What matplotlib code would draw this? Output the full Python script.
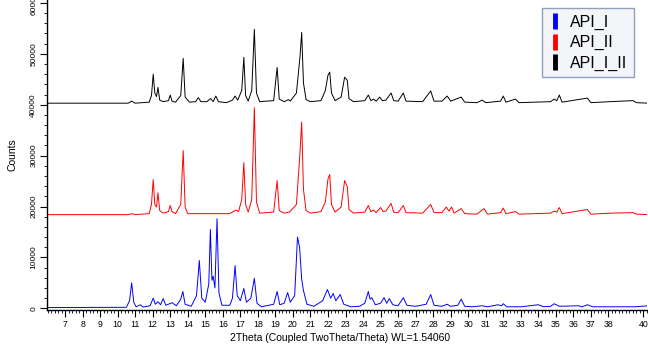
import matplotlib
matplotlib.use("Agg")
import matplotlib.pyplot as plt
from matplotlib.lines import Line2D
from matplotlib.ticker import MultipleLocator, FixedLocator, FixedFormatter

plt.rcParams['font.family'] = ['Liberation Sans', 'DejaVu Sans']

# ---- data: (2theta, counts above the pattern's own baseline) ----
api_I_points = [
    (6.0, 150), (10.5, 200), (10.68, 1500), (10.8, 5000), (10.92, 1200), (11.05, 300),
    (11.3, 700), (11.45, 250), (11.85, 500), (12.03, 2000), (12.15, 800), (12.3, 1300),
    (12.45, 700), (12.6, 1900), (12.75, 600), (13.1, 1100), (13.35, 500), (13.6, 1800),
    (13.72, 3300), (13.85, 800), (14.2, 400), (14.5, 2500), (14.66, 9400), (14.8, 2000),
    (15.0, 1200), (15.2, 4800), (15.29, 15500), (15.38, 5500), (15.45, 6300), (15.55, 4000),
    (15.67, 17600), (15.78, 3000), (15.95, 600), (16.4, 600), (16.55, 2000), (16.7, 8400),
    (16.82, 2500), (17.0, 1500), (17.2, 3900), (17.35, 1200), (17.6, 2000), (17.8, 5900),
    (17.95, 1000), (18.2, 300), (18.9, 800), (19.1, 3300), (19.25, 700), (19.5, 1000),
    (19.7, 3100), (19.85, 1200), (20.1, 2500), (20.26, 14000), (20.38, 12000), (20.5, 5700),
    (20.6, 3500), (20.8, 800), (21.2, 400), (21.7, 1500), (21.97, 3700), (22.15, 2000),
    (22.3, 2900), (22.45, 1500), (22.7, 2700), (22.9, 800), (23.3, 300), (23.8, 400),
    (24.1, 1000), (24.3, 3300), (24.4, 1800), (24.5, 2100), (24.7, 700), (25.0, 1000),
    (25.2, 2100), (25.35, 1000), (25.5, 1900), (25.7, 700), (26.0, 500), (26.3, 2100),
    (26.5, 600), (27.0, 400), (27.6, 800), (27.86, 2700), (28.05, 600), (28.5, 400),
    (28.8, 800), (29.0, 400), (29.4, 600), (29.6, 1800), (29.8, 400), (30.2, 300),
    (30.8, 500), (31.1, 300), (31.7, 700), (31.9, 500), (32.0, 900), (32.2, 300),
    (33.0, 300), (34.0, 700), (34.3, 300), (34.7, 400), (34.9, 900), (35.2, 400),
    (36.3, 500), (36.5, 300), (36.8, 700), (37.1, 300), (38.5, 300), (39.5, 300),
    (40.3, 500),
]
api_I_offset = 0

api_II_points = [
    (6.0, 0), (10.6, 0), (10.8, 200), (11.0, 0), (11.8, 200), (11.93, 2000), (12.03, 6900),
    (12.12, 2000), (12.22, 1500), (12.3, 4300), (12.4, 800), (12.6, 300), (12.9, 600),
    (13.0, 1800), (13.1, 600), (13.3, 200), (13.6, 2000), (13.74, 12600), (13.85, 1500),
    (14.0, 200), (16.4, 200), (16.6, 600), (16.75, 900), (16.9, 600), (17.08, 3000),
    (17.2, 10200), (17.3, 2000), (17.45, 500), (17.65, 3000), (17.8, 21000), (17.92, 2500),
    (18.1, 300), (18.9, 500), (19.1, 6700), (19.22, 800), (19.5, 300), (19.8, 500),
    (20.2, 2000), (20.4, 12000), (20.5, 18200), (20.6, 5000), (20.75, 800), (21.0, 300),
    (21.6, 600), (21.85, 2500), (22.0, 7000), (22.1, 7900), (22.2, 2000), (22.4, 500),
    (22.75, 1500), (22.95, 6700), (23.1, 5500), (23.2, 1000), (23.45, 300), (24.1, 500),
    (24.3, 1800), (24.45, 600), (24.6, 900), (24.75, 400), (25.0, 1400), (25.15, 600),
    (25.3, 700), (25.6, 2200), (25.75, 500), (26.0, 400), (26.3, 1800), (26.45, 400),
    (27.4, 300), (27.86, 2000), (28.05, 400), (28.5, 400), (28.75, 1500), (28.9, 700),
    (29.05, 1500), (29.2, 300), (29.6, 1200), (29.8, 200), (30.5, 100), (30.9, 1200),
    (31.1, 100), (31.85, 400), (32.0, 1300), (32.15, 200), (32.7, 600), (32.9, 100),
    (34.7, 300), (34.9, 700), (35.05, 500), (35.2, 1400), (35.35, 200), (36.8, 1000),
    (37.0, 100), (38.2, 300), (39.4, 400), (39.6, 100), (40.3, 0),
]
api_II_offset = 18400

api_I_II_points = [
    (6.0, 0), (10.6, 0), (10.8, 400), (11.0, 0), (11.8, 200), (11.93, 1500), (12.03, 5700),
    (12.12, 2000), (12.22, 1300), (12.3, 3100), (12.4, 600), (12.6, 300), (12.9, 500),
    (13.0, 1600), (13.1, 400), (13.3, 200), (13.6, 1500), (13.74, 8800), (13.85, 1200),
    (14.1, 200), (14.45, 300), (14.6, 1100), (14.75, 300), (15.1, 300), (15.3, 900),
    (15.45, 300), (15.6, 1400), (15.75, 300), (16.2, 100), (16.55, 600), (16.7, 1400),
    (16.85, 600), (17.08, 2500), (17.2, 9000), (17.3, 1500), (17.45, 400), (17.65, 2500),
    (17.8, 14500), (17.92, 2000), (18.1, 300), (18.9, 500), (19.1, 7000), (19.22, 800),
    (19.5, 300), (19.75, 700), (19.85, 400), (20.2, 2000), (20.4, 9000), (20.5, 13900),
    (20.6, 4000), (20.75, 700), (21.0, 300), (21.6, 500), (21.85, 2500), (22.0, 5500),
    (22.1, 6100), (22.2, 2000), (22.4, 500), (22.75, 1200), (22.95, 5100), (23.1, 4500),
    (23.2, 900), (23.45, 300), (24.1, 500), (24.3, 1600), (24.45, 500), (24.6, 800),
    (24.75, 400), (24.95, 1200), (25.1, 500), (25.3, 600), (25.6, 2000), (25.75, 500),
    (26.0, 400), (26.3, 2000), (26.45, 400), (27.4, 300), (27.86, 2400), (28.05, 400),
    (28.5, 400), (28.8, 1400), (29.0, 400), (29.6, 1200), (29.8, 200), (30.5, 100),
    (30.8, 600), (31.0, 100), (31.85, 400), (32.0, 1400), (32.15, 200), (32.7, 800),
    (32.9, 100), (34.7, 300), (34.9, 800), (35.05, 500), (35.2, 1600), (35.35, 200),
    (36.8, 1000), (37.0, 100), (38.1, 300), (39.4, 500), (39.6, 100), (40.3, 0),
]
api_I_II_offset = 40300

series_names = ["API_I", "API_II", "API_I_II"]
series_colors = ["#0000ff", "#ff0000", "#000000"]

x_tick_values = [7, 8, 9, 10, 11, 12, 13, 14, 15, 16, 17, 18, 19, 20, 21, 22, 23, 24, 25,
                 26, 27, 28, 29, 30, 31, 32, 33, 34, 35, 36, 37, 38, 40]
x_tick_labels = [str(v) for v in x_tick_values]
y_tick_values = [0, 10000, 20000, 30000, 40000, 50000, 60000]
y_tick_labels = [str(v) for v in y_tick_values]

# ---- figure ----
fig = plt.figure(figsize=(6.48, 3.44), dpi=100)
ax = fig.add_axes([47 / 648, 34 / 344, 600 / 648, 310 / 344])

all_series = [(api_I_points, api_I_offset), (api_II_points, api_II_offset),
              (api_I_II_points, api_I_II_offset)]
for (pts, off), name, col in zip(all_series, series_names, series_colors):
    xs = [p[0] for p in pts]
    ys = [p[1] + off for p in pts]
    ax.plot(xs, ys, color=col, lw=0.7, label=name)

ax.set_xlim(5.97, 40.2)
ax.set_ylim(-330, 60570)

for s in ("top", "right"):
    ax.spines[s].set_visible(False)
ax.spines["left"].set_linewidth(1.0)
ax.spines["bottom"].set_linewidth(1.0)

ax.xaxis.set_major_locator(FixedLocator(x_tick_values))
ax.xaxis.set_major_formatter(FixedFormatter(x_tick_labels))
ax.xaxis.set_minor_locator(MultipleLocator(0.2))
ax.yaxis.set_major_locator(FixedLocator(y_tick_values))
ax.yaxis.set_major_formatter(FixedFormatter(y_tick_labels))
ax.yaxis.set_minor_locator(MultipleLocator(2000))

ax.tick_params(axis="x", which="major", length=5, width=0.8, labelsize=6.3, pad=2)
ax.tick_params(axis="x", which="minor", length=2.5, width=0.6)
ax.tick_params(axis="y", which="major", length=5, width=0.8, labelsize=6, pad=2)
ax.tick_params(axis="y", which="minor", length=2.5, width=0.6)
for lab in ax.get_yticklabels():
    lab.set_rotation(90)
    lab.set_va("center")

fig.text(12 / 648, 1 - 155 / 344, "Counts", rotation=90, ha="center", va="center", fontsize=7.5)
fig.text(340 / 648, 1 - 338 / 344, "2Theta (Coupled TwoTheta/Theta) WL=1.54060",
         ha="center", va="center", fontsize=7.5)

handles = [Line2D([], [], color=c, marker="|", markersize=11, markeredgewidth=3.5,
                  linestyle="none") for c in series_colors]
leg = ax.legend(handles, series_names, loc="upper right",
                bbox_to_anchor=(634 / 648, 1 - 8 / 344), bbox_transform=fig.transFigure,
                borderaxespad=0, fontsize=11.5, frameon=True, fancybox=False,
                handlelength=0.9, handletextpad=0.5, labelspacing=0.35, borderpad=0.4)
leg.get_frame().set_facecolor("#f3f5f8")
leg.get_frame().set_edgecolor("#8da0bd")
leg.get_frame().set_linewidth(1.0)
leg.get_frame().set_alpha(1.0)

fig.savefig("out.png", dpi=100)
